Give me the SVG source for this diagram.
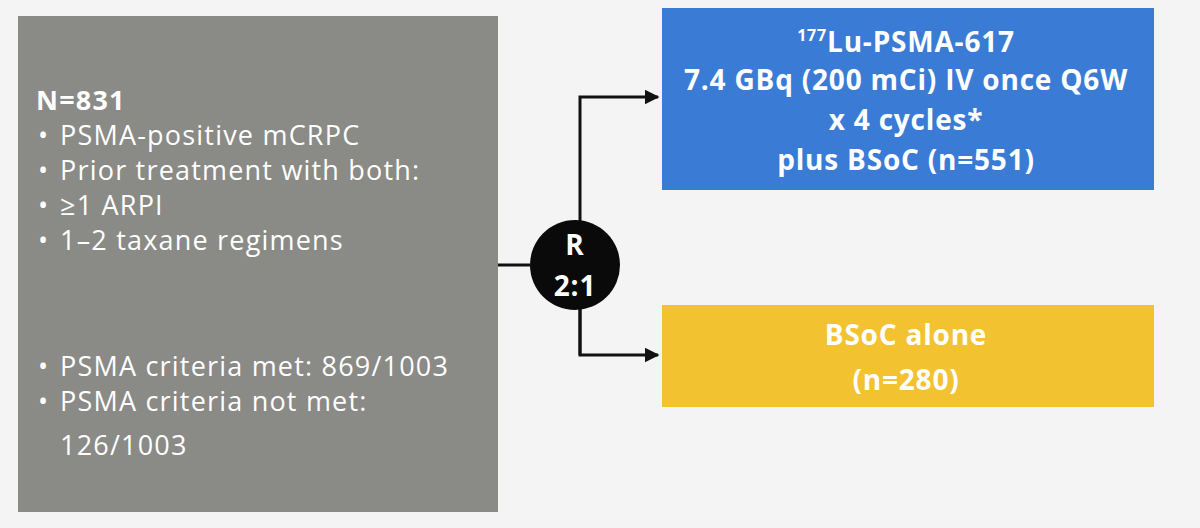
<svg xmlns="http://www.w3.org/2000/svg" width="1200" height="528" viewBox="0 0 1200 528">
<style>
text{font-family:"Open Sans","Liberation Sans",sans-serif;fill:#fff;font-size:27px;letter-spacing:1.2px}
.b{font-weight:bold}
.c{text-anchor:middle;font-weight:bold;font-size:28px;letter-spacing:0.8px}
.ln{stroke:#111;stroke-width:3;fill:none}
</style>
<defs><marker id="a" viewBox="0 0 10 10" refX="9" refY="5" markerWidth="5" markerHeight="5" orient="auto"><path d="M0,0L10,5L0,10z" fill="#111"/></marker></defs>
<rect width="1200" height="528" fill="#f4f4f4"/>
<g id="population">
<rect x="18" y="16" width="480" height="496" fill="#8a8a87"/>
<text x="36" y="110" class="b">N=831</text>
<text x="38" y="145">•</text><text x="60" y="145">PSMA-positive mCRPC</text>
<text x="38" y="180">•</text><text x="60" y="180">Prior treatment with both:</text>
<text x="38" y="215">•</text><text x="60" y="215">≥1 ARPI</text>
<text x="38" y="250">•</text><text x="60" y="250">1–2 taxane regimens</text>
<text x="38" y="376">•</text><text x="60" y="376">PSMA criteria met: 869/1003</text>
<text x="38" y="411">•</text><text x="60" y="411">PSMA criteria not met:</text>
<text x="60" y="455">126/1003</text>
</g>
<g id="connectors">
<path class="ln" d="M498,265H530"/>
<path class="ln" d="M580,355V97H658" marker-end="url(#a)"/>
<path class="ln" d="M580,265V355H658" marker-end="url(#a)"/>
</g>
<g id="rand">
<circle cx="575" cy="265" r="45" fill="#0a0a0a"/>
<text x="575" y="255" class="c">R</text>
<text x="575" y="296" class="c">2:1</text>
</g>
<g id="arm1">
<rect x="662" y="8" width="492" height="182" fill="#3a7bd5"/>
<text x="906" y="52" class="c"><tspan font-size="16" dy="-11">177</tspan><tspan dy="11">Lu-PSMA-617</tspan></text>
<text x="906" y="90" class="c">7.4 GBq (200 mCi) IV once Q6W</text>
<text x="906" y="130" class="c">x 4 cycles*</text>
<text x="906" y="170" class="c">plus BSoC (n=551)</text>
</g>
<g id="arm2">
<rect x="662" y="305" width="492" height="102" fill="#f2c230"/>
<text x="906" y="345" class="c">BSoC alone</text>
<text x="906" y="390" class="c">(n=280)</text>
</g>
</svg>
